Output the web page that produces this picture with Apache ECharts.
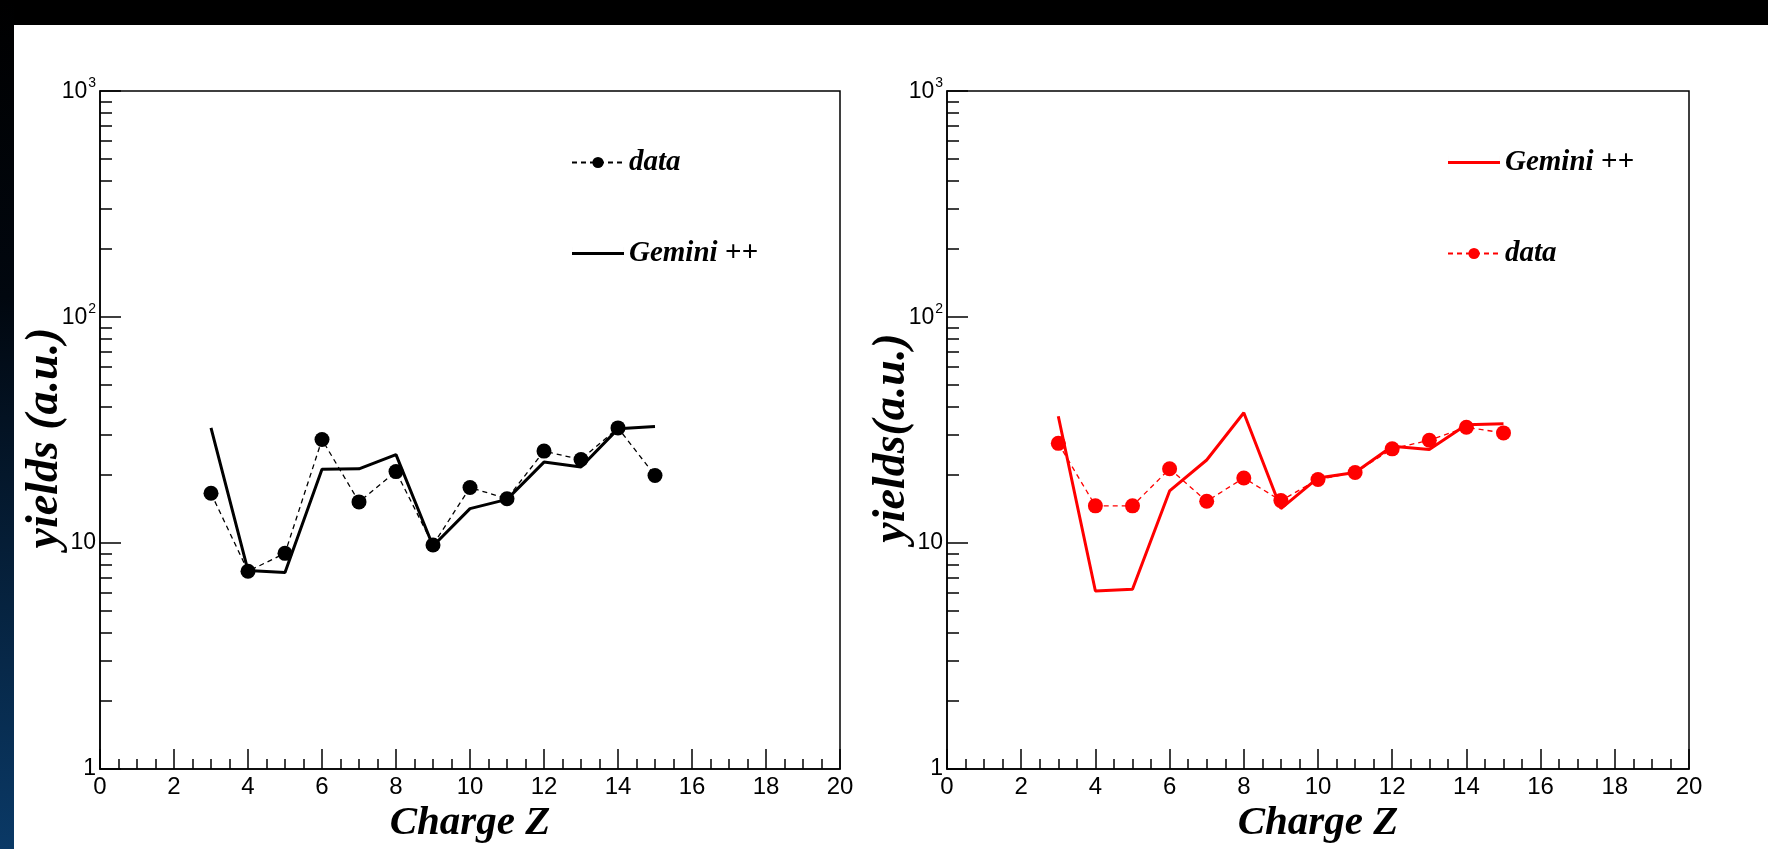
<!DOCTYPE html>
<html><head><meta charset="utf-8">
<script src="https://cdn.jsdelivr.net/npm/echarts@6/dist/echarts.min.js"></script>
<style>
html,body{margin:0;padding:0;width:1768px;height:849px;overflow:hidden;background:#fff;}
#chart{position:absolute;left:0;top:0;width:1768px;height:849px;}
#topband{position:absolute;left:0;top:0;width:1768px;height:25px;background:#000;}
#leftband{position:absolute;left:0;top:0;width:14px;height:849px;background:linear-gradient(#000 0%,#01070f 35%,#0a3966 100%);}
</style></head><body>
<div id="chart"></div><div id="topband"></div><div id="leftband"></div>
<script>
// ---- data ----
const charges = [3, 4, 5, 6, 7, 8, 9, 10, 11, 12, 13, 14, 15];
const leftData = [16.6, 7.5, 9.0, 28.7, 15.2, 20.7, 9.8, 17.6, 15.7, 25.5, 23.4, 32.3, 19.9];
const leftGemini = [32.3, 7.55, 7.4, 21.2, 21.3, 24.6, 9.7, 14.2, 15.6, 22.8, 21.7, 32.0, 32.8];
const rightData = [27.6, 14.6, 14.6, 21.3, 15.3, 19.4, 15.4, 19.1, 20.5, 26.1, 28.5, 32.5, 30.7];
const rightGemini = [36.4, 6.13, 6.24, 17.0, 23.3, 37.7, 14.2, 19.4, 20.5, 26.8, 25.9, 33.4, 33.7];
const yMajorTicks = [1, 10, 100, 1000];
const yMinorTicks = [2, 3, 4, 5, 6, 7, 8, 9, 20, 30, 40, 50, 60, 70, 80, 90, 200, 300, 400, 500, 600, 700, 800, 900];
const xMin = 0, xMax = 20, xInterval = 2;
const xTitle = 'Charge Z';
const yTitles = ['yields (a.u.)', 'yields(a.u.)'];
const legendNames = { 'dataL': 'data', 'gemL': 'Gemini ++', 'dataR': 'data', 'gemR': 'Gemini ++' };

const pairs = ys => charges.map((z, i) => [z, ys[i]]);
const serifBI = { fontFamily: 'Liberation Serif', fontStyle: 'italic', fontWeight: 'bold', color: '#000' };
const axisCol = { color: '#000', width: 1.5 };

function yLabel(v) {
  const e = Math.round(Math.log10(v));
  if (e === 0) return '1';
  if (e === 1) return '10';
  return '{b|10}{s|' + e + '}';
}

function xAxisFor(g) {
  return {
    type: 'value', gridIndex: g, min: xMin, max: xMax, interval: xInterval,
    axisLine: { show: true, lineStyle: axisCol },
    axisTick: { show: true, inside: true, length: 20, lineStyle: axisCol },
    minorTick: { show: true, splitNumber: 4, length: 10, lineStyle: axisCol },
    splitLine: { show: false },
    axisLabel: { margin: 6, color: '#000', fontFamily: 'Liberation Sans', fontSize: 24 },
    name: xTitle, nameLocation: 'middle', nameGap: 34, nameMoveOverlap: false,
    nameTextStyle: Object.assign({ fontSize: 41 }, serifBI)
  };
}
function yAxesFor(g) {
  return [{
    type: 'log', logBase: 10, gridIndex: g, min: 1, max: 1000, position: 'left',
    axisLine: { show: true, lineStyle: axisCol },
    axisTick: { show: true, inside: true, length: 21, customValues: yMajorTicks, lineStyle: axisCol },
    splitLine: { show: false },
    axisLabel: {
      customValues: yMajorTicks, formatter: yLabel, margin: 4, color: '#000',
      fontFamily: 'Liberation Sans', fontSize: 23,
      rich: {
        b: { fontFamily: 'Liberation Sans', fontSize: 23, color: '#000', verticalAlign: 'bottom', lineHeight: 24 },
        s: { fontFamily: 'Liberation Sans', fontSize: 14, color: '#000', verticalAlign: 'bottom', lineHeight: 14, padding: [0, 0, 13, 1] }
      }
    },
    name: yTitles[g], nameLocation: 'middle', nameGap: 32, nameMoveOverlap: false,
    nameTextStyle: Object.assign({ fontSize: 46, padding: [0, 16, 0, 0] }, serifBI)
  }, {
    type: 'log', logBase: 10, gridIndex: g, min: 1, max: 1000, position: 'left', offset: 0,
    axisLine: { show: false },
    axisTick: { show: true, inside: true, length: 12, customValues: yMinorTicks, lineStyle: axisCol },
    axisLabel: { show: false }, splitLine: { show: false }
  }];
}

const legendText = {
  fontSize: 29, fontFamily: 'Liberation Serif', fontStyle: 'italic', fontWeight: 'bold', color: '#000',
  rich: {
    i: { fontSize: 29, fontFamily: 'Liberation Serif', fontStyle: 'italic', fontWeight: 'bold', color: '#000' },
    p: { fontSize: 29, fontFamily: 'Liberation Serif', fontWeight: 'bold', color: '#000' }
  }
};
function legendFmt(n) {
  const t = legendNames[n];
  if (t === 'Gemini ++') return '{i|Gemini} {p|++}';
  return '{i|' + t + '}';
}
// plain line icon (52 x 14 box, 3px bar in the middle)
const lineIcon = 'path://M0,0 H0.01 V14 H0 Z M0,5.5 H52 V8.5 H0 Z M51.99,0 H52 V14 H51.99 Z';
function legendFor(items, left) {
  return {
    data: items, left: left, top: 143, orient: 'vertical', itemGap: 62,
    itemWidth: 52, itemHeight: 14, selectedMode: false, formatter: legendFmt,
    textStyle: legendText
  };
}

const dataSeries = (name, g, ys, color) => ({
  name, type: 'line', xAxisIndex: g, yAxisIndex: g * 2, data: pairs(ys),
  symbol: 'circle', symbolSize: 15, itemStyle: { color },
  lineStyle: { color, width: 1.3, type: [5, 4] }, z: 3
});
const gemSeries = (name, g, ys, color) => ({
  name, type: 'line', xAxisIndex: g, yAxisIndex: g * 2, data: pairs(ys),
  symbol: 'none', itemStyle: { color }, lineStyle: { color, width: 3 }, z: 2
});

const chart = echarts.init(document.getElementById('chart'));
chart.setOption({
  animation: false,
  backgroundColor: '#fff',
  grid: [
    { left: 100, top: 91, width: 740, height: 679, show: true, borderColor: '#000', borderWidth: 1.5 },
    { left: 947, top: 91, width: 742, height: 679, show: true, borderColor: '#000', borderWidth: 1.5 }
  ],
  xAxis: [xAxisFor(0), xAxisFor(1)],
  yAxis: yAxesFor(0).concat(yAxesFor(1)),
  legend: [
    legendFor(['dataL', { name: 'gemL', icon: lineIcon }], 566),
    legendFor([{ name: 'gemR', icon: lineIcon }, 'dataR'], 1442)
  ],
  series: [
    gemSeries('gemL', 0, leftGemini, '#000'),
    dataSeries('dataL', 0, leftData, '#000'),
    gemSeries('gemR', 1, rightGemini, '#ff0000'),
    dataSeries('dataR', 1, rightData, '#ff0000')
  ]
});
</script>
</body></html>
